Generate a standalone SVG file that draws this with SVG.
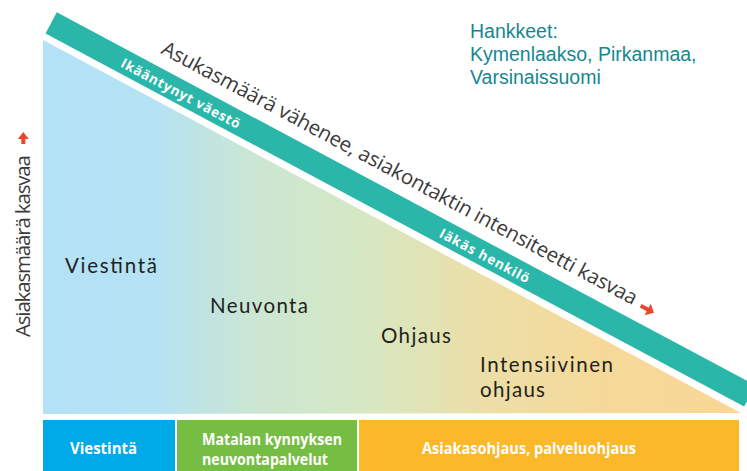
<svg xmlns="http://www.w3.org/2000/svg" width="747" height="471" viewBox="0 0 747 471">
  <defs>
    <linearGradient id="tri" gradientUnits="userSpaceOnUse" x1="43" y1="0" x2="741" y2="0">
      <stop offset="0" stop-color="#b3e1f7"/>
      <stop offset="0.16" stop-color="#b5e2f4"/>
      <stop offset="0.3" stop-color="#cbe6d3"/>
      <stop offset="0.45" stop-color="#d5e8c4"/>
      <stop offset="0.62" stop-color="#ebdfa8"/>
      <stop offset="0.8" stop-color="#f6d99a"/>
      <stop offset="1" stop-color="#f9d795"/>
    </linearGradient>
    <style>
      .lbl { font-family: Lato, "Open Sans", sans-serif; font-size: 20.5px; fill: #231f20; }
      .axis { font-family: "Open Sans", "Noto Sans", sans-serif; font-size: 20.5px; font-weight: 400; fill: #3a3a3a; }
      .band { font-family: "Open Sans", "Noto Sans", sans-serif; font-size: 13.5px; font-weight: 700; fill: #ffffff; }
      .box { font-family: "Open Sans", "Noto Sans", sans-serif; font-size: 16px; font-weight: 700; fill: #ffffff; }
      .hank { font-family: "Liberation Sans", Arial, sans-serif; font-size: 19.5px; fill: #15878f; }
      .red { fill: #e8472e; }
    </style>
  </defs>

  <rect width="747" height="471" fill="#ffffff"/>

  <g id="triangle">
    <polygon points="43,40 741,413 43,414" fill="url(#tri)"/>
    <text class="lbl" x="65" y="273" textLength="92">Viestintä</text>
    <text class="lbl" x="210" y="313" textLength="98">Neuvonta</text>
    <text class="lbl" x="381" y="343" textLength="70">Ohjaus</text>
    <text class="lbl" x="480" y="372" textLength="133">Intensiivinen</text>
    <text class="lbl" x="480" y="397" textLength="65">ohjaus</text>
  </g>

  <g id="band" transform="translate(45.5,33.5) rotate(28.1)">
    <rect x="0" y="-24" width="792" height="24" fill="#2ab7a9"/>
    <text class="band" x="81" y="-6" textLength="133">Ikääntynyt väestö</text>
    <text class="band" x="442" y="-6" textLength="100">Iäkäs henkilö</text>
  </g>

  <g id="band-caption" transform="translate(160,53) rotate(28.1)">
    <text class="axis" x="0" y="0" textLength="536">Asukasmäärä vähenee, asiakontaktin intensiteetti kasvaa</text>
    <path class="red" d="M 543 -5.5 L 551 -5.5 L 551 -10 L 558 -3.5 L 551 3 L 551 -1.5 L 543 -1.5 Z"/>
  </g>

  <g id="vertical-axis">
    <text class="axis" transform="translate(30,337) rotate(-90)" x="0" y="0" textLength="182">Asiakasmäärä kasvaa</text>
    <path class="red" d="M 21.3 144 L 21.3 139 L 17.8 139 L 23.3 132 L 28.8 139 L 25.3 139 L 25.3 144 Z"/>
  </g>

  <g id="hankkeet">
    <text class="hank" x="470" y="38">Hankkeet:</text>
    <text class="hank" x="470" y="61">Kymenlaakso, Pirkanmaa,</text>
    <text class="hank" x="470" y="84">Varsinaissuomi</text>
  </g>

  <g id="box-viestinta">
    <rect x="43" y="420" width="132" height="51" fill="#00a9e8"/>
    <text class="box" x="70" y="454" textLength="67" lengthAdjust="spacingAndGlyphs">Viestintä</text>
  </g>
  <g id="box-matalan">
    <rect x="177" y="420" width="180" height="51" fill="#76bd43"/>
    <text class="box" x="202" y="445" textLength="140" lengthAdjust="spacingAndGlyphs">Matalan kynnyksen</text>
    <text class="box" x="202" y="465" textLength="126" lengthAdjust="spacingAndGlyphs">neuvontapalvelut</text>
  </g>
  <g id="box-asiakasohjaus">
    <rect x="359" y="420" width="380" height="51" fill="#fbb829"/>
    <text class="box" x="422" y="454" textLength="214" lengthAdjust="spacingAndGlyphs">Asiakasohjaus, palveluohjaus</text>
  </g>

  <g id="connectors"></g>
</svg>
